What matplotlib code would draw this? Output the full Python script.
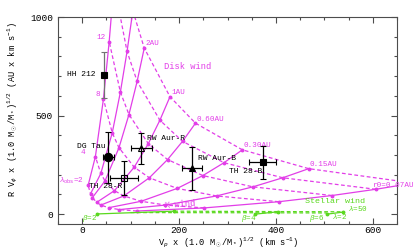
import matplotlib
matplotlib.use('Agg')
import matplotlib.pyplot as plt

plt.rcParams['font.family'] = ['Liberation Mono', 'DejaVu Sans']
plt.rcParams['mathtext.fontset'] = 'custom'
plt.rcParams['mathtext.rm'] = 'Liberation Mono'
plt.rcParams['mathtext.it'] = 'Liberation Mono:italic'

# disk wind grid: one row per launch radius r0, one column per lever arm lambda
r0_names = ['r0=0.07AU', '0.15AU', '0.30AU', '0.60AU', '1AU', '2AU', '', '']
lam_names = ['$\\lambda_{\\rm obs}$=2', '4', '8', '12', '', '']
vp = [[112.6, 251.7, 405.9, 515.8, 606.1, 684.6],
      [76.9, 171.9, 277.3, 352.4, 414.1, 467.7],
      [54.4, 121.6, 196.1, 249.2, 292.8, 330.7],
      [38.5, 86.0, 138.6, 176.2, 207.1, 233.9],
      [29.8, 66.6, 107.4, 136.5, 160.4, 181.2],
      [21.1, 47.1, 75.9, 96.5, 113.4, 128.1],
      [17.2, 38.4, 62.0, 78.8, 92.6, 104.6],
      [12.2, 27.2, 43.8, 55.7, 65.5, 74.0]]
rvphi = [[15.8, 31.5, 63.0, 94.5, 126.1, 157.6],
         [23.1, 46.1, 92.3, 138.4, 184.5, 230.7],
         [32.6, 65.2, 130.5, 195.7, 261.0, 326.2],
         [46.1, 92.3, 184.5, 276.8, 369.1, 461.4],
         [59.6, 119.1, 238.2, 357.4, 476.5, 595.6],
         [84.2, 168.5, 336.9, 505.4, 673.8, 842.3],
         [103.2, 206.3, 412.6, 619.0, 825.3, 1031.6],
         [145.9, 291.8, 583.6, 875.4, 1167.0, 1459.0]]

# stellar wind (green)
sw_beta2_vp = [30, 190]
sw_beta2_j = [1, 15]
sw_beta4_vp = [357, 404]
sw_beta4_j = [0, 12]
sw_beta6_vp = [505, 538]
sw_beta6_j = [0, 10]
sw_lam50_vp = [190, 404, 538]
sw_lam50_j = [15, 13, 12]
sw_lam2_vp = [100, 357, 505]
sw_lam2_j = [8, 7, 6]

# observed jets
obj_names = ['HH 212', 'DG Tau', 'TH 28-R', 'RW Aur-R', 'RW Aur-B', 'TH 28-B']
obj_vp = [45, 54, 87, 122, 227, 373]
obj_vp_err = [0, 12, 29, 22, 21, 28]
obj_j = [707, 288, 182, 333, 232, 263]
obj_j_err = [116, 130, 86, 81, 111, 83]

mag = '#e23ee8'
grn = '#5ad81e'

fig = plt.figure(figsize=(4.16, 2.5), dpi=100)
ax = fig.add_axes([58/416, 26/250, 339/416, 207/250])

# constant r0 lines (solid) with markers at each lambda
for i in range(len(vp)):
    ax.plot(vp[i], rvphi[i], '-', color=mag, lw=0.9, marker='o', ms=1.8)
# constant lambda lines (dashed)
for j in range(len(lam_names)):
    ax.plot([row[j] for row in vp], [row[j] for row in rvphi], '--', color=mag, lw=0.9, dashes=(3, 2))

# r0 labels
for i, name in enumerate(r0_names):
    if not name:
        continue
    k = 4 if i == 0 else 5
    dx = -4 if i == 0 else 1
    ax.annotate(name, (vp[i][k], rvphi[i][k]), xytext=(dx*0.72, 3), textcoords='offset points',
                ha='left', va='center', color=mag, fontsize=5.5, annotation_clip=False)
# lambda labels on the r0=6AU line
lam_dx = [-4, -10, -3, -4]
for j, name in enumerate(lam_names):
    if not name:
        continue
    ax.annotate(name, (vp[7][j], rvphi[7][j]), xytext=(lam_dx[j]*0.72, 3), textcoords='offset points',
                ha='right', va='center', color=mag, fontsize=5.5)

ax.text(218, 748, 'Disk wind', color=mag, fontsize=6.3, ha='center', va='center')
ax.text(202, 50, 'X-wind', color=mag, fontsize=6.3, ha='center', va='center', rotation=4)

# stellar wind
for xs, ys in [(sw_beta2_vp, sw_beta2_j), (sw_beta4_vp, sw_beta4_j), (sw_beta6_vp, sw_beta6_j)]:
    ax.plot(xs, ys, '-', color=grn, lw=0.9, marker='o', ms=1.8)
ax.plot(sw_lam50_vp, sw_lam50_j, '--', color=grn, lw=0.9, dashes=(3, 2))
ax.plot(sw_lam2_vp, sw_lam2_j, '--', color=grn, lw=0.9, dashes=(3, 2))
ax.text(522, 62, 'Stellar wind', color=grn, fontsize=6, ha='center', va='center')
ax.text(16, -20, '$\\beta$=2', color=grn, fontsize=5.5, ha='center', va='center')
ax.text(344, -20, '$\\beta$=4', color=grn, fontsize=5.5, ha='center', va='center')
ax.text(485, -20, '$\\beta$=6', color=grn, fontsize=5.5, ha='center', va='center')
ax.text(532, -10, '$\\lambda$=2', color=grn, fontsize=5.5, ha='center', va='center')
ax.text(569, 28, '$\\lambda$=50', color=grn, fontsize=5.5, ha='center', va='center')

# observations
styles = [('s', 'k', 5), ('o', 'k', 6), ('s', 'none', 4.5), ('^', 'none', 5), ('^', 'k', 5), ('s', 'k', 5)]
ecols = ['0.45', 'k', 'k', 'k', 'k', 'k']
for i in range(len(obj_names)):
    m, fc, ms = styles[i]
    ax.errorbar(obj_vp[i], obj_j[i], xerr=obj_vp_err[i] or None, yerr=obj_j_err[i],
                fmt=m, mfc=fc, mec='k', ms=ms, mew=0.8, ecolor=ecols[i], elinewidth=0.9,
                capsize=2, capthick=0.9, zorder=5)
lab_off = [(-9, 0, 'right'), (-3, 11, 'right'), (-2, -8, 'right'),
           (6, 10, 'left'), (6, 10, 'left'), (-1, -9, 'right')]
for i, name in enumerate(obj_names):
    dx, dy, ha = lab_off[i]
    ax.annotate(name, (obj_vp[i], obj_j[i]), xytext=(dx*0.72, dy*0.72), textcoords='offset points',
                ha=ha, va='center', fontsize=5.8, color='k')

ax.set_xlim(-50, 650)
ax.set_ylim(-50, 1000)
ax.set_xticks([0, 200, 400, 600])
ax.set_xticks(range(-50, 651, 50), minor=True)
ax.set_yticks([0, 500, 1000])
ax.set_yticks(range(0, 1001, 100), minor=True)
ax.tick_params(which='both', direction='in', top=True, right=True, colors='0.3', labelcolor='k', labelsize=6.8)
ax.tick_params(axis='x', which='major', pad=1.5)
ax.tick_params(which='major', length=4, width=0.8)
ax.tick_params(which='minor', length=2.5, width=0.8)
for s in ax.spines.values():
    s.set_color('0.3')
    s.set_linewidth(0.8)

fig.text(228/416, 7/250, 'V$_p$ x (1.0 M$_\\odot$/M$_*$)$^{1/2}$ (km s$^{-1}$)', fontsize=6.3,
         ha='center', va='center')
fig.text(13/416, 1 - 110/250, 'R V$_\\phi$ x (1.0 M$_\\odot$/M$_*$)$^{1/2}$ (AU x km s$^{-1}$)', fontsize=6.2,
         ha='center', va='center', rotation=90)

fig.savefig('out.png', dpi=100)
